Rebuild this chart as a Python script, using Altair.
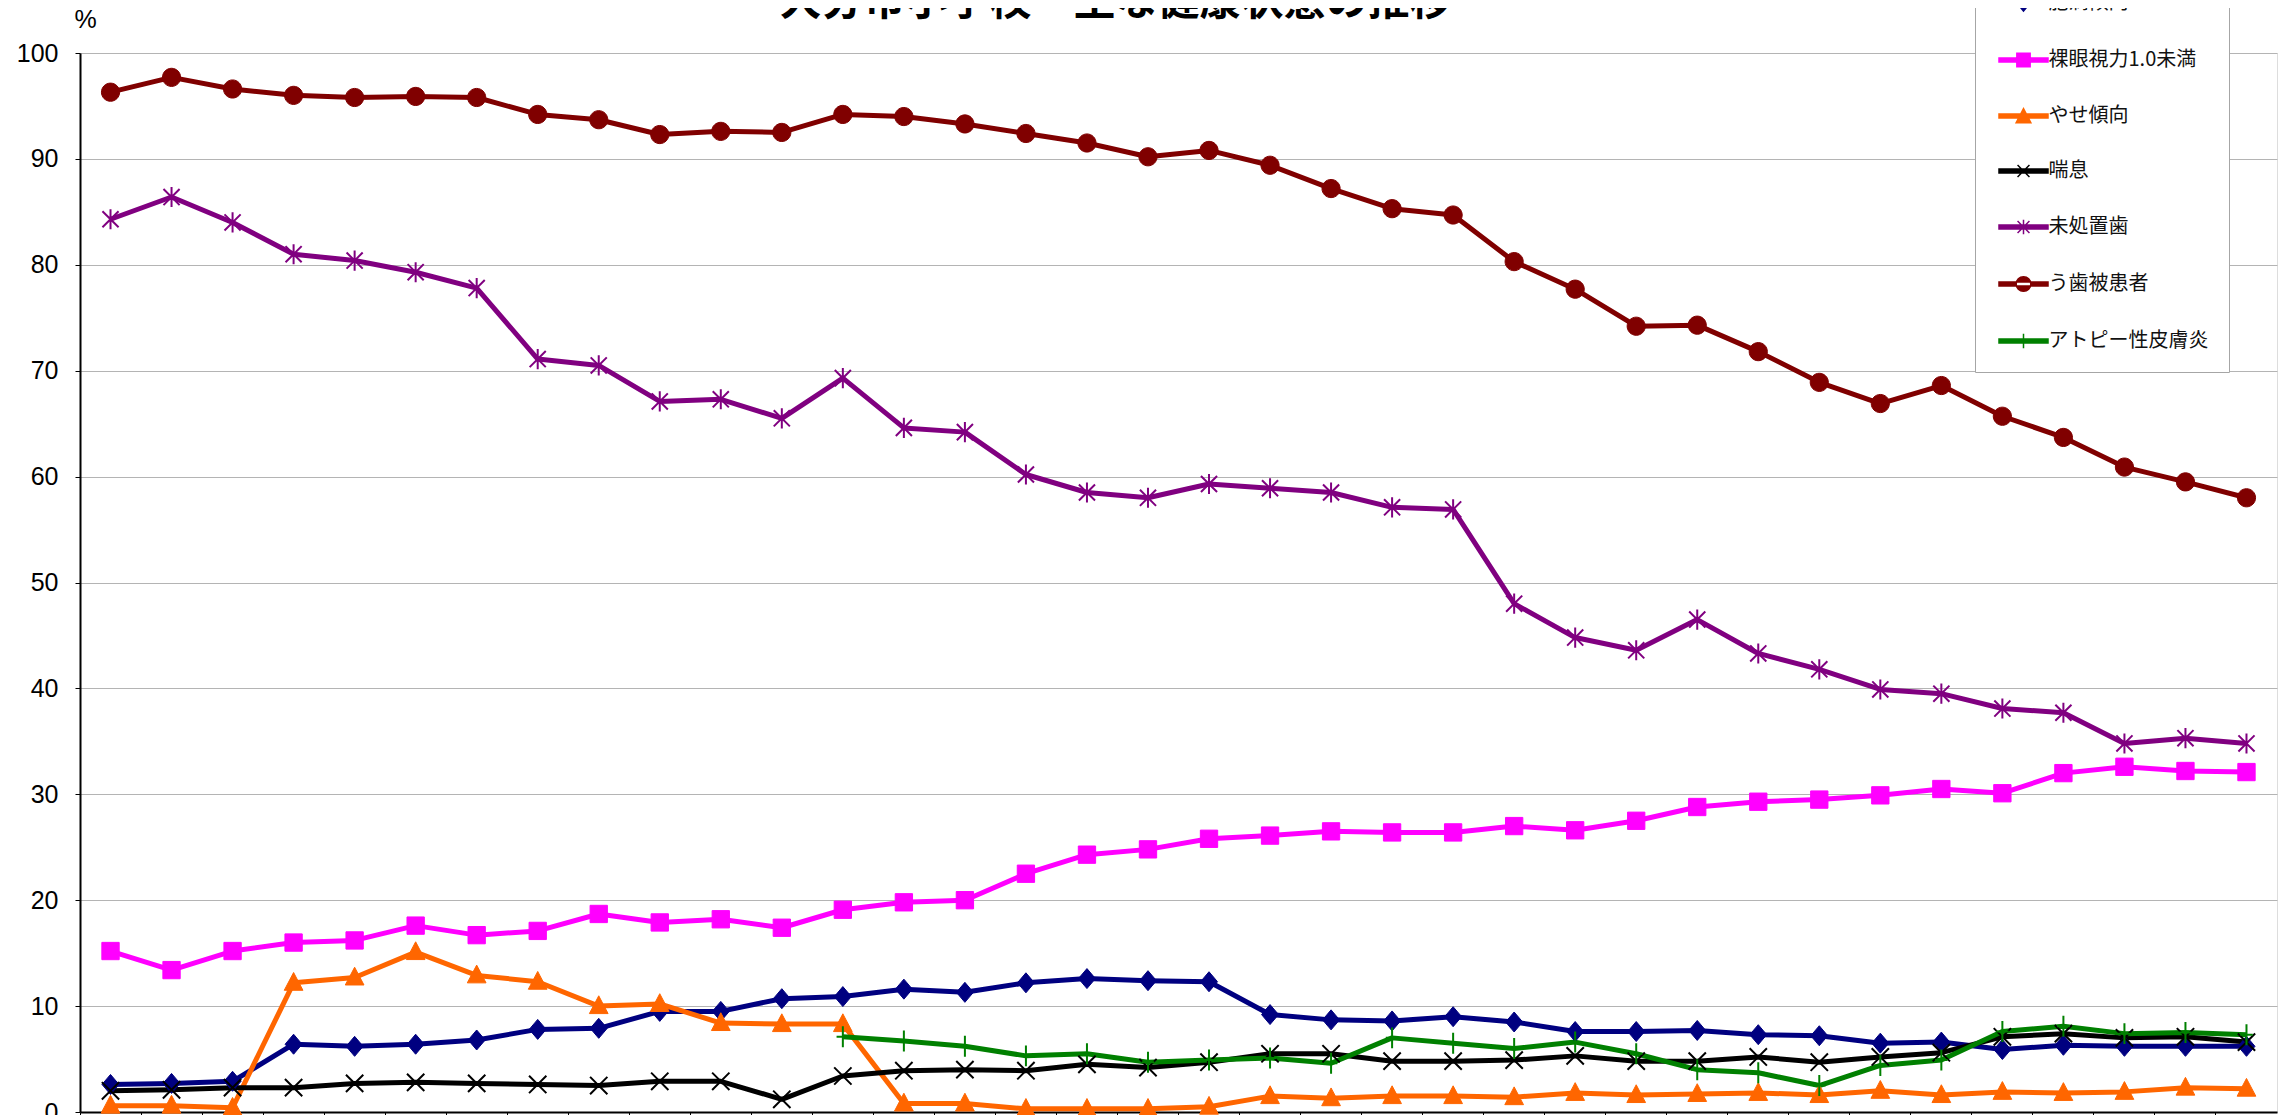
import altair as alt
import pandas as pd

# ---------------- data ----------------
categories = ["1984", "1985", "1986", "1987", "1988", "1989", "1990", "1991", "1992",
              "1993", "1994", "1995", "1996", "1997", "1998", "1999", "2000", "2001",
              "2002", "2003", "2004", "2005", "2006", "2007", "2008", "2009", "2010",
              "2011", "2012", "2013", "2014", "2015", "2016", "2017", "2018", "2019"]

series_names = ["肥満傾向", "裸眼視力1.0未満", "やせ傾向", "喘息", "未処置歯", "う歯被患者", "アトピー性皮膚炎"]

himan = [2.6, 2.7, 2.9, 6.4, 6.2, 6.4, 6.8, 7.8, 7.9, 9.5, 9.5, 10.7, 10.9, 11.6, 11.3, 12.2, 12.6, 12.4,
         12.3, 9.2, 8.7, 8.6, 9.0, 8.5, 7.6, 7.6, 7.7, 7.3, 7.2, 6.5, 6.6, 5.9, 6.3, 6.2, 6.2, 6.2]
shiryoku = [15.2, 13.4, 15.2, 16.0, 16.2, 17.6, 16.7, 17.1, 18.7, 17.9, 18.2, 17.4, 19.1, 19.8, 20.0, 22.5, 24.3, 24.8,
            25.8, 26.1, 26.5, 26.4, 26.4, 27.0, 26.6, 27.5, 28.8, 29.3, 29.5, 29.9, 30.5, 30.1, 32.0, 32.6, 32.2, 32.1]
yase = [0.6, 0.6, 0.4, 12.2, 12.7, 15.1, 12.9, 12.3, 10.0, 10.2, 8.4, 8.3, 8.3, 0.8, 0.8, 0.3, 0.3, 0.3,
        0.5, 1.5, 1.3, 1.5, 1.5, 1.4, 1.8, 1.6, 1.7, 1.8, 1.6, 2.0, 1.6, 1.9, 1.8, 1.9, 2.3, 2.2]
zensoku = [2.0, 2.1, 2.3, 2.3, 2.7, 2.8, 2.7, 2.6, 2.5, 2.9, 2.9, 1.2, 3.4, 3.9, 4.0, 3.9, 4.5, 4.2,
           4.7, 5.5, 5.5, 4.8, 4.8, 4.9, 5.3, 4.8, 4.8, 5.2, 4.7, 5.2, 5.6, 7.1, 7.4, 7.0, 7.1, 6.6]
mishochi = [84.3, 86.4, 84.0, 81.0, 80.4, 79.3, 77.8, 71.1, 70.5, 67.1, 67.3, 65.5, 69.3, 64.6, 64.2, 60.2, 58.5, 58.0,
            59.3, 58.9, 58.5, 57.1, 56.9, 48.0, 44.8, 43.6, 46.5, 43.3, 41.8, 39.9, 39.5, 38.1, 37.7, 34.8, 35.3, 34.8]
ushi = [96.3, 97.7, 96.6, 96.0, 95.8, 95.9, 95.8, 94.2, 93.7, 92.3, 92.6, 92.5, 94.2, 94.0, 93.3, 92.4, 91.5, 90.2,
        90.8, 89.4, 87.2, 85.3, 84.7, 80.3, 77.7, 74.2, 74.3, 71.8, 68.9, 66.9, 68.6, 65.7, 63.7, 60.9, 59.5, 58.0]
atopy = [None] * 12 + [7.1, 6.7, 6.2, 5.3, 5.5, 4.7, 4.9, 5.1, 4.6, 7.0, 6.5, 6.0,
                       6.6, 5.5, 4.0, 3.7, 2.5, 4.4, 4.9, 7.6, 8.1, 7.4, 7.5, 7.3]

colors = ["#000080", "#FF00FF", "#FF6600", "#000000", "#800080", "#800000", "#008000"]

title_text = "大分市小学校　主な健康状態の推移"

# ---------------- table ----------------
all_values = [himan, shiryoku, yase, zensoku, mishochi, ushi, atopy]
rows = []
for name, vals in zip(series_names, all_values):
    for cat, v in zip(categories, vals):
        if v is not None:
            rows.append({"cat": cat, "series": name, "value": v})
df = pd.DataFrame(rows)

# marker shapes (plot) and legend shapes (line + marker)
marker_paths = {
    "肥満傾向": ("M0,-1L0.85,0L0,1L-0.85,0Z", 400, True),
    "裸眼視力1.0未満": ("M-1,-1H1V1H-1Z", 300, True),
    "やせ傾向": ("M0,-1.1L1,0.8H-1Z", 350, True),
    "喘息": ("M-1,-1L1,1M-1,1L1,-1", 300, False),
    "未処置歯": ("M-1,-1L1,1M-1,1L1,-1M0,-1.25V1.25", 260, False),
    "う歯被患者": ("M-1,0A1,1,0,1,0,1,0A1,1,0,1,0,-1,0Z", 330, True),
    "アトピー性皮膚炎": ("M0,-1V1M-0.6,0H0.6", 440, False),
}

LINE = "M-3.5,-0.3H3.5V0.3H-3.5Z"
legend_paths = [
    LINE + "M0,-1.15L0.95,0L0,1.15L-0.95,0Z",
    LINE + "M-0.95,-0.95H0.95V0.95H-0.95Z",
    LINE + "M0,-1.05L1.05,0.95H-1.05Z",
    LINE + "M-0.85,-0.85L0.85,0.85M-0.85,0.85L0.85,-0.85",
    LINE + "M-0.85,-0.85L0.85,0.85M-0.85,0.85L0.85,-0.85M0,-1.05V1.05",
    LINE + "M-1.05,0A1.05,1.05,0,1,0,1.05,0A1.05,1.05,0,1,0,-1.05,0Z",
    LINE + "M0,-1.05V1.05",
]

x_enc = alt.X(
    "cat:O", sort=categories,
    scale=alt.Scale(type="band", domain=categories, paddingInner=0, paddingOuter=0),
    bandPosition=0.5,
    axis=alt.Axis(title=None, bandPosition=0, grid=False, domainColor="black", domainWidth=2,
                  tickColor="black", tickSize=6, tickWidth=1, labelAngle=0, labelFontSize=18,
                  labelFont="Liberation Sans", labelColor="black", labelPadding=6),
)
y_enc = alt.Y(
    "value:Q",
    scale=alt.Scale(domain=[0, 100], nice=False, zero=True),
    axis=alt.Axis(values=[0, 10, 20, 30, 40, 50, 60, 70, 80, 90, 100], grid=True,
                  gridColor="#b4b4b4", gridWidth=1, domainColor="black", domainWidth=2,
                  tickColor="black", tickSize=5, labelFontSize=25, labelFont="Liberation Sans",
                  labelColor="black", labelPadding=17,
                  title="%", titleAngle=0, titleX=5, titleY=-26, titleAlign="center",
                  titleBaseline="alphabetic", titleFontSize=25, titleFontWeight="normal",
                  titleFont="Liberation Sans", titleColor="black"),
)

base = alt.Chart(df)
layers = []
for name, col in zip(series_names, colors):
    sub = base.transform_filter(alt.datum.series == name)
    layers.append(sub.mark_line(color=col, strokeWidth=5, strokeJoin="round").encode(x=x_enc, y=y_enc))
for name, col in zip(series_names, colors):
    path, size, filled = marker_paths[name]
    sub = base.transform_filter(alt.datum.series == name)
    if filled:
        mk = sub.mark_point(shape=path, size=size, filled=True, fill=col, stroke=col,
                            strokeWidth=1, opacity=1)
    else:
        mk = sub.mark_point(shape=path, size=size, filled=False, stroke=col,
                            strokeWidth=2, opacity=1)
    layers.append(mk.encode(x=x_enc, y=y_enc))

leg = alt.Legend(title=None, orient="none", legendX=1895, legendY=-80, padding=20,
                 fillColor="white", strokeColor="#a6a6a6", symbolSize=196,
                 symbolStrokeWidth=1.5, symbolOffset=18.5, labelOffset=15,
                 labelFont="Noto Sans CJK JP", labelFontSize=20, labelColor="#111111",
                 rowPadding=35, labelLimit=400)

legend_layer = base.transform_filter("false").mark_point(filled=True, size=196, opacity=1).encode(
    x=x_enc, y=y_enc,
    fill=alt.Fill("series:N", scale=alt.Scale(domain=series_names, range=colors), legend=leg),
    stroke=alt.Stroke("series:N", scale=alt.Scale(domain=series_names, range=colors), legend=leg),
    shape=alt.Shape("series:N", scale=alt.Scale(domain=series_names, range=legend_paths), legend=leg),
)
layers.append(legend_layer)

# title anchored from the bottom edge of the view bounds (so it sits cut at the top, like the reference)
chart = alt.layer(*layers).properties(
    width=2197, height=1059,
    title=alt.TitleParams(title_text, font="Noto Sans CJK JP", fontSize=42, fontWeight="bold",
                          color="black", anchor="middle", dx=-63, baseline="alphabetic",
                          orient="bottom", offset=-1127),
    autosize=alt.AutoSizeParams(type="none"),
    padding={"left": 72, "top": 45, "right": 6, "bottom": 40},
).configure_view(stroke="black", strokeWidth=2).configure(background="white")

chart.save("out.html", embed_options={"renderer": "svg", "actions": False})
